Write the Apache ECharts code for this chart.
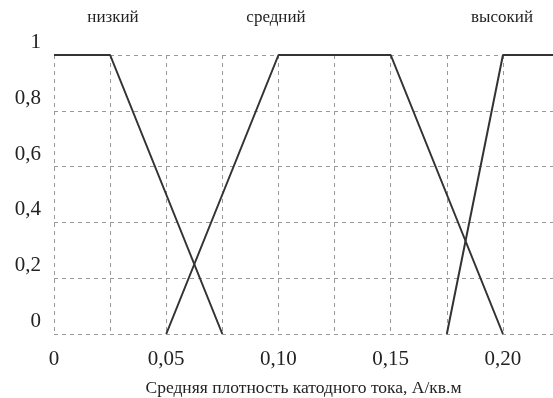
<!DOCTYPE html>
<html><head><meta charset="utf-8">
<script src="https://cdn.jsdelivr.net/npm/echarts@6/dist/echarts.min.js"></script>
<style>html,body{margin:0;padding:0;background:#fff}#c{width:553px;height:398px}</style>
</head><body><div id="c"></div>
<script>
// Membership functions (x: current density, y: membership degree)
const lowX = [0, 0.025, 0.075];
const lowY = [1, 1, 0];
const midX = [0.05, 0.10, 0.15, 0.20];
const midY = [0, 1, 1, 0];
const highX = [0.175, 0.20, 0.225];
const highY = [0, 1, 1];
const termNames = ['низкий', 'средний', 'высокий'];
const termCenters = [0.0263, 0.0989, 0.1996];
const xTickValues = [0, 0.05, 0.10, 0.15, 0.20];
const xTickLabels = ['0', '0,05', '0,10', '0,15', '0,20'];
const yTickValues = [0, 0.2, 0.4, 0.6, 0.8, 1];
const yTickLabels = ['0', '0,2', '0,4', '0,6', '0,8', '1'];
const xAxisName = 'Средняя плотность катодного тока, А/кв.м';

const pairs = (xs, ys) => xs.map((x, i) => [x, ys[i]]);
const serif = '"Liberation Serif", "DejaVu Serif", serif';
const lineStyle = {color: '#333', width: 2};

const chart = echarts.init(document.getElementById('c'), null, {renderer: 'canvas'});
chart.setOption({
  animation: false,
  backgroundColor: '#fff',
  grid: {left: 54, top: 55, width: 499, height: 279, containLabel: false, outerBoundsMode: 'none'},
  xAxis: {
    type: 'value', min: 0, max: 0.2223, interval: 0.025,
    name: xAxisName, nameLocation: 'middle', nameGap: 45,
    nameTextStyle: {fontFamily: serif, fontSize: 17.5, color: '#222'},
    axisLine: {show: false}, axisTick: {show: false},
    axisLabel: {
      fontFamily: serif, fontSize: 21, color: '#222', margin: 15,
      showMaxLabel: false,
      formatter: v => {
        const i = xTickValues.findIndex(t => Math.abs(t - v) < 1e-9);
        return i >= 0 ? xTickLabels[i] : '';
      }
    },
    splitLine: {show: true, lineStyle: {color: '#999', type: [4, 4], width: 1}}
  },
  yAxis: {
    type: 'value', min: 0, max: 1, interval: 0.2,
    axisLine: {show: false}, axisTick: {show: false},
    axisLabel: {
      fontFamily: serif, fontSize: 21, color: '#222', margin: 13,
      verticalAlign: 'bottom', padding: [0, 0, 2, 0],
      formatter: v => {
        const i = yTickValues.findIndex(t => Math.abs(t - v) < 1e-9);
        return i >= 0 ? yTickLabels[i] : '';
      }
    },
    splitLine: {show: true, lineStyle: {color: '#999', type: [4, 4], width: 1}}
  },
  series: [
    {type: 'line', name: termNames[0], data: pairs(lowX, lowY), symbol: 'none', lineStyle, z: 5},
    {type: 'line', name: termNames[1], data: pairs(midX, midY), symbol: 'none', lineStyle, z: 5},
    {type: 'line', name: termNames[2], data: pairs(highX, highY), symbol: 'none', lineStyle, z: 5, clip: true}
  ]
});

// Term labels above the plot, positioned via the axis scale
const graphics = termNames.map((n, i) => {
  const p = chart.convertToPixel({gridIndex: 0}, [termCenters[i], 1]);
  return {
    type: 'text', x: p[0], y: 18,
    style: {text: n, fontFamily: serif, fontSize: 17, fill: '#222',
            textAlign: 'center', textVerticalAlign: 'middle'}
  };
});
chart.setOption({graphic: graphics});
</script></body></html>
